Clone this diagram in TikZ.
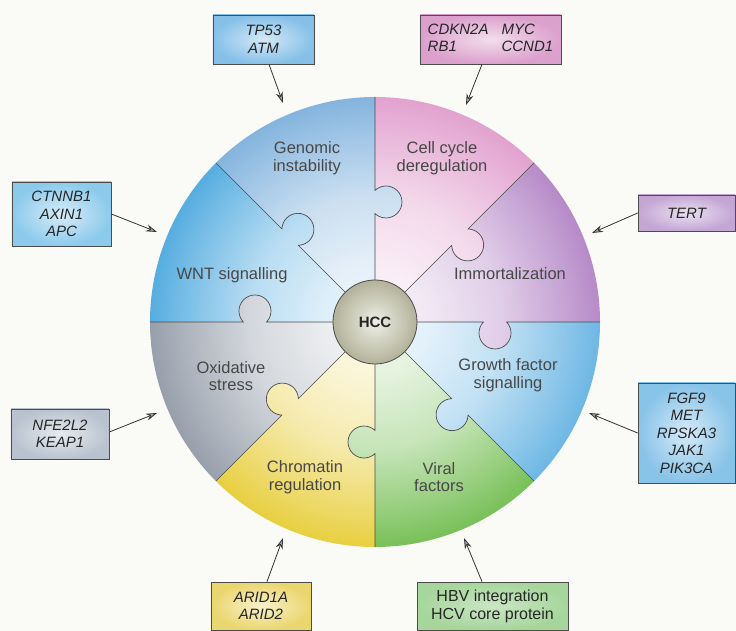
\documentclass[tikz,border=0pt]{standalone}
\usepackage{fontspec}
\setmainfont{Liberation Sans}
\usetikzlibrary{arrows.meta}
\definecolor{bgcol}{HTML}{FAFAF7}
\definecolor{cImm}{HTML}{B68AC8}
\definecolor{cCell}{HTML}{E2A2CF}
\definecolor{cGen}{HTML}{84B4DE}
\definecolor{cWnt}{HTML}{56ADE0}
\definecolor{cOx}{HTML}{979FAB}
\definecolor{cChr}{HTML}{E8CF40}
\definecolor{cVir}{HTML}{78C058}
\definecolor{cGro}{HTML}{6DB7E4}
\definecolor{bTp}{HTML}{86C0E8}
\definecolor{bCd}{HTML}{DBA0CC}
\definecolor{bCt}{HTML}{8CCAEC}
\definecolor{bNf}{HTML}{B9C3CF}
\definecolor{bTe}{HTML}{C3A6D4}
\definecolor{bFg}{HTML}{88C3E8}
\definecolor{bAr}{HTML}{EAD66E}
\definecolor{bHb}{HTML}{A6D69C}
\definecolor{hccIn}{HTML}{EEEEE6}
\definecolor{hccOut}{HTML}{B2B29A}
\definecolor{linecol}{HTML}{4A4A4A}
\newcommand\mkshade[2]{%
  \pgfdeclareradialshading{#1}{\pgfpoint{0bp}{0bp}}{%
    color(0bp)=(#2!12!white); color(6bp)=(#2!20!white);
    color(14bp)=(#2!42!white); color(21bp)=(#2!78!white);
    color(25bp)=(#2); color(50bp)=(#2)}}
\mkshade{shImm}{cImm}
\mkshade{shCell}{cCell}
\mkshade{shGen}{cGen}
\mkshade{shWnt}{cWnt}
\mkshade{shOx}{cOx}
\mkshade{shChr}{cChr}
\mkshade{shVir}{cVir}
\mkshade{shGro}{cGro}
\tikzset{
  genebox/.style={draw=black!70, line width=0.7pt, align=center,
    font=\fontsize{15}{17.5}\selectfont\itshape, text=black!85, inner sep=0pt},
  seclabel/.style={align=center, font=\fontsize{16.5}{17.5}\selectfont, text=black!72},
  conn/.style={draw=black!80, line width=0.8pt,
    -{Stealth[length=11pt,width=7pt,inset=3.5pt,fill=black!35]}},
  piecelines/.style={draw=linecol, line width=0.7pt},
}
\begin{document}
\begin{tikzpicture}[x=1pt,y=1pt]
\fill[bgcol] (-375,-309) rectangle (361,322);
\useasboundingbox (-375,-309) rectangle (361,322);
% puzzle pieces
\foreach \angA/\shd [evaluate=\angA as \angB using \angA+45,
                     evaluate=\angA as \ka using \angA+136.6,
                     evaluate=\angA as \kb using \angA+403.4,
                     evaluate=\angA as \kc using \angA+88.4,
                     evaluate=\angA as \kd using \angA-178.4]
  in {0/shImm,45/shCell,90/shGen,135/shWnt,180/shOx,225/shChr,270/shVir,315/shGro}
{
  \begin{scope}
    \clip (0,0) -- (\angA:108.4) arc[start angle=\ka, end angle=\kb, radius=16]
      -- (\angA:225) arc[start angle=\angA, end angle=\angB, radius=225]
      -- (\angB:131.6) arc[start angle=\kc, end angle=\kd, radius=16] -- cycle;
    \shade[shading=\shd] (0,0) circle[radius=225];
  \end{scope}
}
% dividing lines with knobs
\foreach \angA [evaluate=\angA as \ka using \angA+136.6,
                evaluate=\angA as \kb using \angA+403.4]
  in {0,45,90,135,180,225,270,315}
{
  \draw[piecelines] (\angA:40) -- (\angA:108.4) arc[start angle=\ka, end angle=\kb, radius=16] -- (\angA:225);
}
% centre
\node[circle, minimum size=84pt, inner sep=0pt, draw=linecol, line width=0.8pt,
      inner color=hccIn, outer color=hccOut,
      font=\fontsize{15}{17}\selectfont\bfseries, text=black!85] (hcc) at (0,0) {HCC};
% sector labels
\node[seclabel] (lgen) at (-68,164) {Genomic\\instability};
\node[seclabel] (lcell) at (67,164) {Cell cycle\\deregulation};
\node[seclabel] (limm) at (135,48) {Immortalization};
\node[seclabel] (lwnt) at (-143,47) {WNT signalling};
\node[seclabel] (lox) at (-144,-54) {Oxidative\\stress};
\node[seclabel] (lgro) at (133,-53) {Growth factor\\signalling};
\node[seclabel] (lchr) at (-70,-155) {Chromatin\\regulation};
\node[seclabel] (lvir) at (64,-155) {Viral\\factors};
% gene boxes
\node[genebox, minimum width=101pt, minimum height=49pt, inner color=bTp!35!white, outer color=bTp]
  (tp) at (-111.5,282.5) {TP53\\ATM};
\node[genebox, minimum width=141pt, minimum height=49pt, inner color=bCd!35!white, outer color=bCd]
  (cd) at (115.5,282.5) {\begin{tabular}{@{}l@{\hspace{13pt}}l@{}}CDKN2A & MYC\\RB1 & CCND1\end{tabular}};
\node[genebox, minimum width=99pt, minimum height=64pt, inner color=bCt!35!white, outer color=bCt]
  (ct) at (-313.5,108) {CTNNB1\\AXIN1\\APC};
\node[genebox, minimum width=98pt, minimum height=50pt, inner color=bNf!35!white, outer color=bNf]
  (nf) at (-315,-112) {NFE2L2\\KEAP1};
\node[genebox, minimum width=97pt, minimum height=36pt, inner color=bTe!35!white, outer color=bTe]
  (te) at (311.5,109) {TERT};
\node[genebox, minimum width=97pt, minimum height=100pt, inner color=bFg!35!white, outer color=bFg]
  (fg) at (311.5,-111) {FGF9\\MET\\RPSKA3\\JAK1\\PIK3CA};
\node[genebox, minimum width=100pt, minimum height=48pt, inner color=bAr!35!white, outer color=bAr]
  (ar) at (-114,-284) {ARID1A\\ARID2};
\node[genebox, minimum width=151pt, minimum height=48pt, inner color=bHb!60!white, outer color=bHb,
      font=\fontsize{16}{18}\selectfont]
  (hb) at (117.5,-284) {HBV integration\\HCV core protein};
% arrow tips
\coordinate (t1) at (-92,219);
\coordinate (t2) at (91,217);
\coordinate (t3) at (-218,90);
\coordinate (t4) at (-218,-91);
\coordinate (t5) at (217,89);
\coordinate (t6) at (214,-91);
\coordinate (t7) at (-92,-216);
\coordinate (t8) at (89,-216);
\draw[conn] ([xshift=5.5pt]tp.south) -- (t1);
\draw[conn] ([xshift=-8.5pt]cd.south) -- (t2);
\draw[conn] (ct.east) -- (t3);
\draw[conn] ([yshift=2pt]nf.east) -- (t4);
\draw[conn] (te.west) -- (t5);
\draw[conn] (fg.west) -- (t6);
\draw[conn] ([xshift=6pt]ar.north) -- (t7);
\draw[conn] ([xshift=-10.5pt]hb.north) -- (t8);
\end{tikzpicture}
\end{document}
